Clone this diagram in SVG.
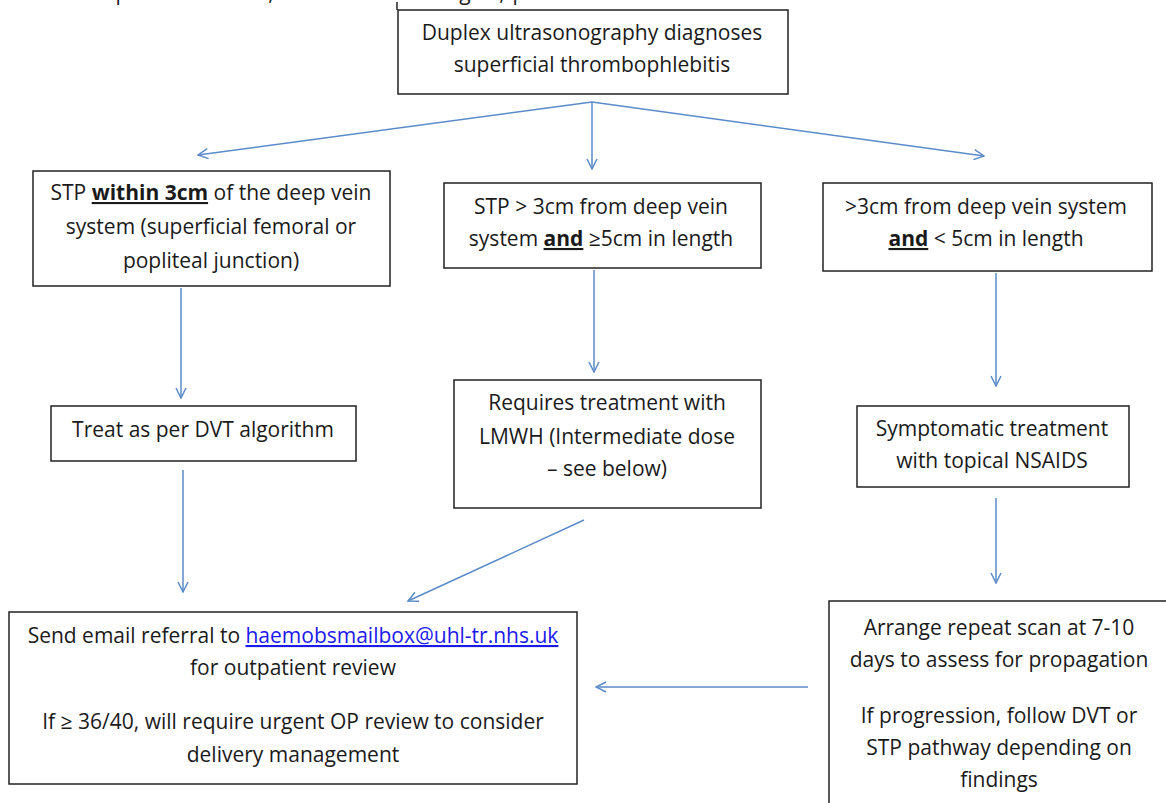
<svg xmlns="http://www.w3.org/2000/svg" width="1166" height="803" viewBox="0 0 1166 803">
<style>
  .box { fill: #ffffff; stroke: #222222; stroke-width: 1.5; }
  .t { font-family: "Open Sans", "Liberation Sans", sans-serif; font-size: 21px; fill: #1a1a1a; text-anchor: middle; }
  .c { stroke: #5b8bc8; stroke-width: 1.5; fill: none; marker-end: url(#arr); }
  .u { text-decoration: underline; }
  .b { font-weight: bold; }
  .link { fill: #1a1aee; text-decoration: underline; }
</style>
<defs>
  <marker id="arr" viewBox="0 0 12 12" refX="11" refY="6" markerWidth="12" markerHeight="12" markerUnits="userSpaceOnUse" orient="auto">
    <path d="M1,1 L11,6 L1,11" fill="none" stroke="#5b8bc8" stroke-width="1.5"/>
  </marker>
</defs>
<rect width="1166" height="803" fill="#ffffff"/>

<g id="topfragments">
  <text class="t" x="122" y="0">p</text>
  <text class="t" x="271" y="0">,</text>
  <text class="t" x="465" y="0">g</text>
  <text class="t" x="502" y="0">,</text>
  <text class="t" x="519" y="0">p</text>
  <line x1="397" y1="2" x2="397" y2="10" stroke="#222" stroke-width="1.5"/>
</g>

<g id="connectors">
  <line class="c" x1="592" y1="102" x2="198" y2="155"/>
  <line class="c" x1="592" y1="102" x2="592" y2="169"/>
  <line class="c" x1="592" y1="102" x2="984" y2="156"/>
  <line class="c" x1="181" y1="288" x2="181" y2="398"/>
  <line class="c" x1="594" y1="270" x2="594" y2="372"/>
  <line class="c" x1="996" y1="273" x2="996" y2="386"/>
  <line class="c" x1="183" y1="470" x2="183" y2="592"/>
  <line class="c" x1="584" y1="520" x2="408" y2="601"/>
  <line class="c" x1="996" y1="498" x2="996" y2="583"/>
  <line class="c" x1="808" y1="687" x2="596" y2="687"/>
</g>

<g id="n_top">
  <rect class="box" x="398" y="10" width="390" height="84"/>
  <text class="t" x="592" y="40">Duplex ultrasonography diagnoses</text>
  <text class="t" x="592" y="72">superficial thrombophlebitis</text>
</g>

<g id="n_within3">
  <rect class="box" x="33" y="171" width="357" height="115"/>
  <text class="t" x="211" y="200">STP <tspan class="b u">within 3cm</tspan> of the deep vein</text>
  <text class="t" x="211" y="234">system (superficial femoral or</text>
  <text class="t" x="211" y="268">popliteal junction)</text>
</g>

<g id="n_gt3_ge5">
  <rect class="box" x="444" y="183" width="317" height="85"/>
  <text class="t" x="601" y="214">STP &gt; 3cm from deep vein</text>
  <text class="t" x="601" y="246">system <tspan class="b u">and</tspan> ≥5cm in length</text>
</g>

<g id="n_gt3_lt5">
  <rect class="box" x="823" y="183" width="329" height="88"/>
  <text class="t" x="986" y="214">&gt;3cm from deep vein system</text>
  <text class="t" x="986" y="246"><tspan class="b u">and</tspan> &lt; 5cm in length</text>
</g>

<g id="n_dvt">
  <rect class="box" x="51" y="406" width="305" height="55"/>
  <text class="t" x="203" y="437">Treat as per DVT algorithm</text>
</g>

<g id="n_lmwh">
  <rect class="box" x="454" y="380" width="307" height="128"/>
  <text class="t" x="607" y="410">Requires treatment with</text>
  <text class="t" x="607" y="444">LMWH (Intermediate dose</text>
  <text class="t" x="607" y="476">– see below)</text>
</g>

<g id="n_nsaids">
  <rect class="box" x="857" y="406" width="272" height="81"/>
  <text class="t" x="992" y="436">Symptomatic treatment</text>
  <text class="t" x="992" y="468">with topical NSAIDS</text>
</g>

<g id="n_referral">
  <rect class="box" x="9" y="612" width="568" height="172"/>
  <text class="t" x="293" y="643">Send email referral to <tspan class="link">haemobsmailbox@uhl-tr.nhs.uk</tspan></text>
  <text class="t" x="293" y="675">for outpatient review</text>
  <text class="t" x="293" y="729">If ≥ 36/40, will require urgent OP review to consider</text>
  <text class="t" x="293" y="762">delivery management</text>
</g>

<g id="n_repeat">
  <rect class="box" x="829" y="601" width="345" height="210"/>
  <text class="t" x="999" y="635">Arrange repeat scan at 7-10</text>
  <text class="t" x="999" y="667">days to assess for propagation</text>
  <text class="t" x="999" y="723">If progression, follow DVT or</text>
  <text class="t" x="999" y="755">STP pathway depending on</text>
  <text class="t" x="999" y="787">findings</text>
</g>
</svg>
